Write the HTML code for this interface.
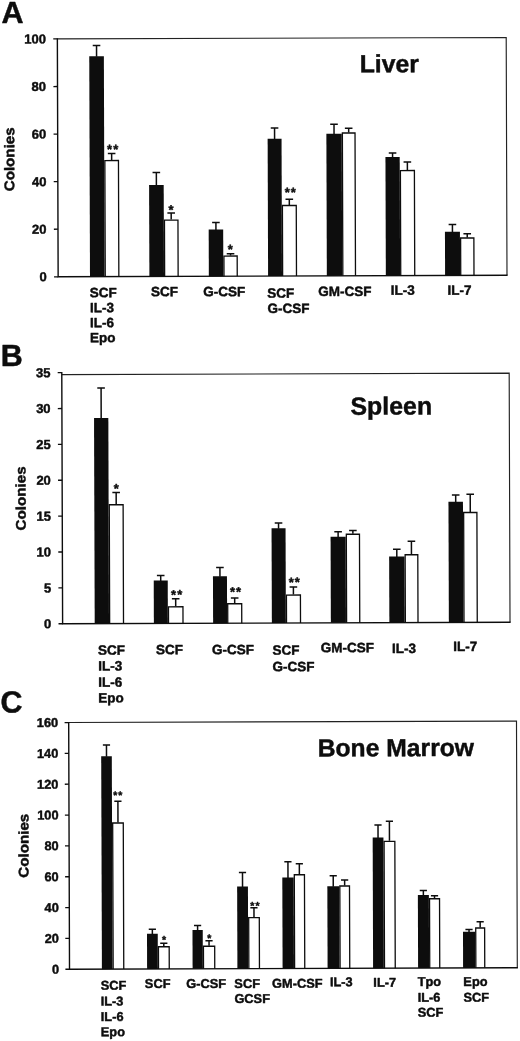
<!DOCTYPE html>
<html><head><meta charset="utf-8"><title>Figure</title>
<style>
html,body{margin:0;padding:0;background:#fff;}
svg{display:block;}
text{font-family:"Liberation Sans", Arial, Helvetica, sans-serif;font-weight:bold;fill:#0d0d0d;stroke:#0d0d0d;stroke-width:0.45px;stroke-linejoin:round;}
</style></head>
<body>
<svg width="520" height="1041" viewBox="0 0 520 1041">
<rect width="520" height="1041" fill="#fff"/>
<g transform="rotate(-0.19 282 157)">
<path d="M57.75 38.2H506.6V276.05" fill="none" stroke="#222" stroke-width="1.15"/>
<path d="M104.85 276.05V159.94H118.45V276.05" fill="#fff" stroke="#0d0d0d" stroke-width="1.3"/>
<path d="M111.65 159.44V152.84M107.85 152.84h7.6" fill="none" stroke="#0d0d0d" stroke-width="1.5"/>
<rect x="89.6" y="55.64" width="14.6" height="220.41" fill="#0d0d0d"/>
<path d="M96.9 56.14V44.89M93.1 44.89h7.6" fill="none" stroke="#0d0d0d" stroke-width="1.5"/>
<path d="M164.25 276.05V219.73H177.75V276.05" fill="#fff" stroke="#0d0d0d" stroke-width="1.3"/>
<path d="M171 219.23V212.73M167.2 212.73h7.6" fill="none" stroke="#0d0d0d" stroke-width="1.5"/>
<rect x="149" y="184.58" width="14.6" height="91.47" fill="#0d0d0d"/>
<path d="M156.3 185.08V172.08M152.5 172.08h7.6" fill="none" stroke="#0d0d0d" stroke-width="1.5"/>
<path d="M223.6 276.05V255.83H236.85V276.05" fill="#fff" stroke="#0d0d0d" stroke-width="1.3"/>
<path d="M230.22 255.33V253.58M226.42 253.58h7.6" fill="none" stroke="#0d0d0d" stroke-width="1.5"/>
<rect x="208.45" y="229.28" width="14.5" height="46.77" fill="#0d0d0d"/>
<path d="M215.7 229.78V222.28M211.9 222.28h7.6" fill="none" stroke="#0d0d0d" stroke-width="1.5"/>
<path d="M282.25 276.05V205.52H296.1V276.05" fill="#fff" stroke="#0d0d0d" stroke-width="1.3"/>
<path d="M289.17 205.02V199.27M285.37 199.27h7.6" fill="none" stroke="#0d0d0d" stroke-width="1.5"/>
<rect x="267.7" y="138.73" width="13.9" height="137.32" fill="#0d0d0d"/>
<path d="M274.65 139.23V127.98M270.85 127.98h7.6" fill="none" stroke="#0d0d0d" stroke-width="1.5"/>
<path d="M342.45 276.05V133.22H355.1V276.05" fill="#fff" stroke="#0d0d0d" stroke-width="1.3"/>
<path d="M348.77 132.72V128.47M344.97 128.47h7.6" fill="none" stroke="#0d0d0d" stroke-width="1.5"/>
<rect x="326.45" y="133.92" width="15.35" height="142.13" fill="#0d0d0d"/>
<path d="M334.12 134.42V124.42M330.32 124.42h7.6" fill="none" stroke="#0d0d0d" stroke-width="1.5"/>
<path d="M400.35 276.05V170.92H414.35V276.05" fill="#fff" stroke="#0d0d0d" stroke-width="1.3"/>
<path d="M407.35 170.42V162.42M403.55 162.42h7.6" fill="none" stroke="#0d0d0d" stroke-width="1.5"/>
<rect x="385.45" y="157.37" width="14.25" height="118.68" fill="#0d0d0d"/>
<path d="M392.57 157.87V153.37M388.77 153.37h7.6" fill="none" stroke="#0d0d0d" stroke-width="1.5"/>
<path d="M460.35 276.05V238.61H473.6V276.05" fill="#fff" stroke="#0d0d0d" stroke-width="1.3"/>
<path d="M466.98 238.11V234.36M463.18 234.36h7.6" fill="none" stroke="#0d0d0d" stroke-width="1.5"/>
<rect x="444.7" y="232.31" width="15" height="43.74" fill="#0d0d0d"/>
<path d="M452.2 232.81V225.06M448.4 225.06h7.6" fill="none" stroke="#0d0d0d" stroke-width="1.5"/>
<path d="M57.75 37.6V276.05M57.05 276.05H507.2" fill="none" stroke="#0d0d0d" stroke-width="1.4"/>
<path d="M53.65 38.2H57.75" fill="none" stroke="#0d0d0d" stroke-width="1.3"/>
<text x="46.3" y="42.67" font-size="13" text-anchor="end">100</text>
<path d="M53.65 85.77H57.75" fill="none" stroke="#0d0d0d" stroke-width="1.3"/>
<text x="46.3" y="90.24" font-size="13" text-anchor="end">80</text>
<path d="M53.65 133.34H57.75" fill="none" stroke="#0d0d0d" stroke-width="1.3"/>
<text x="46.3" y="137.81" font-size="13" text-anchor="end">60</text>
<path d="M53.65 180.91H57.75" fill="none" stroke="#0d0d0d" stroke-width="1.3"/>
<text x="46.3" y="185.38" font-size="13" text-anchor="end">40</text>
<path d="M53.65 228.48H57.75" fill="none" stroke="#0d0d0d" stroke-width="1.3"/>
<text x="46.3" y="232.95" font-size="13" text-anchor="end">20</text>
<path d="M53.65 276.05H57.75" fill="none" stroke="#0d0d0d" stroke-width="1.3"/>
<text x="46.3" y="280.52" font-size="13" text-anchor="end">0</text>
<text x="89.4" y="296.65" font-size="13.5">SCF</text>
<text x="89.4" y="311.65" font-size="13.5">IL-3</text>
<text x="89.4" y="326.65" font-size="13.5">IL-6</text>
<text x="89.4" y="341.65" font-size="13.5">Epo</text>
<text x="150.6" y="295.85" font-size="13.5">SCF</text>
<text x="202.7" y="296.03" font-size="13.5">G-CSF</text>
<text x="266.9" y="297.79" font-size="13.5">SCF</text>
<text x="266.9" y="312.99" font-size="13.5">G-CSF</text>
<text x="317.7" y="296.16" font-size="13.5">GM-CSF</text>
<text x="390.3" y="295.15" font-size="13.5">IL-3</text>
<text x="447" y="295.34" font-size="13.5">IL-7</text>
<text x="113.2" y="153.08" font-size="13" text-anchor="middle" stroke-width="0.3" letter-spacing="1.0">**</text>
<text x="171.25" y="213.78" font-size="13" text-anchor="middle" stroke-width="0.3" letter-spacing="1.0">*</text>
<text x="230.5" y="253.47" font-size="13" text-anchor="middle" stroke-width="0.3" letter-spacing="1.0">*</text>
<text x="290.7" y="196.67" font-size="13" text-anchor="middle" stroke-width="0.3" letter-spacing="1.0">**</text>
<text x="360" y="72.59" font-size="24.8">Liver</text>
<text x="1.9" y="22.17" font-size="30.5" stroke-width="0.8">A</text>
<text transform="translate(14.2 190.41) rotate(-90)" font-size="14.0" textLength="64" lengthAdjust="spacingAndGlyphs">Colonies</text>
</g>
<g transform="rotate(-0.19 285 498)">
<path d="M62.2 373.9H509.6V623" fill="none" stroke="#222" stroke-width="1.15"/>
<path d="M109.25 623V504.19H123.1V623" fill="#fff" stroke="#0d0d0d" stroke-width="1.3"/>
<path d="M116.18 503.69V491.94M112.38 491.94h7.6" fill="none" stroke="#0d0d0d" stroke-width="1.5"/>
<rect x="94.3" y="417.39" width="14.3" height="205.61" fill="#0d0d0d"/>
<path d="M101.45 417.89V387.39M97.65 387.39h7.6" fill="none" stroke="#0d0d0d" stroke-width="1.5"/>
<path d="M168.1 623V606.39H182.6V623" fill="#fff" stroke="#0d0d0d" stroke-width="1.3"/>
<path d="M175.35 605.89V598.39M171.55 598.39h7.6" fill="none" stroke="#0d0d0d" stroke-width="1.5"/>
<rect x="153.45" y="580.09" width="14" height="42.91" fill="#0d0d0d"/>
<path d="M160.45 580.59V575.09M156.65 575.09h7.6" fill="none" stroke="#0d0d0d" stroke-width="1.5"/>
<path d="M227.35 623V603.58H241.35V623" fill="#fff" stroke="#0d0d0d" stroke-width="1.3"/>
<path d="M234.35 603.08V597.83M230.55 597.83h7.6" fill="none" stroke="#0d0d0d" stroke-width="1.5"/>
<rect x="212.7" y="576.03" width="14" height="46.97" fill="#0d0d0d"/>
<path d="M219.7 576.53V567.28M215.9 567.28h7.6" fill="none" stroke="#0d0d0d" stroke-width="1.5"/>
<path d="M286.1 623V595.03H300.1V623" fill="#fff" stroke="#0d0d0d" stroke-width="1.3"/>
<path d="M293.1 594.53V587.03M289.3 587.03h7.6" fill="none" stroke="#0d0d0d" stroke-width="1.5"/>
<rect x="271.45" y="528.23" width="14" height="94.77" fill="#0d0d0d"/>
<path d="M278.45 528.73V522.98M274.65 522.98h7.6" fill="none" stroke="#0d0d0d" stroke-width="1.5"/>
<path d="M346.2 623V534.47H359.35V623" fill="#fff" stroke="#0d0d0d" stroke-width="1.3"/>
<path d="M352.77 533.97V530.72M348.97 530.72h7.6" fill="none" stroke="#0d0d0d" stroke-width="1.5"/>
<rect x="330.45" y="536.93" width="15.1" height="86.07" fill="#0d0d0d"/>
<path d="M338 537.43V531.93M334.2 531.93h7.6" fill="none" stroke="#0d0d0d" stroke-width="1.5"/>
<path d="M404.95 623V555.17H417.6V623" fill="#fff" stroke="#0d0d0d" stroke-width="1.3"/>
<path d="M411.27 554.67V541.67M407.47 541.67h7.6" fill="none" stroke="#0d0d0d" stroke-width="1.5"/>
<rect x="388.95" y="556.87" width="15.35" height="66.13" fill="#0d0d0d"/>
<path d="M396.62 557.37V549.62M392.82 549.62h7.6" fill="none" stroke="#0d0d0d" stroke-width="1.5"/>
<path d="M463.6 623V513.11H476.85V623" fill="#fff" stroke="#0d0d0d" stroke-width="1.3"/>
<path d="M470.23 512.61V494.86M466.43 494.86h7.6" fill="none" stroke="#0d0d0d" stroke-width="1.5"/>
<rect x="448.45" y="502.32" width="14.5" height="120.68" fill="#0d0d0d"/>
<path d="M455.7 502.82V495.57M451.9 495.57h7.6" fill="none" stroke="#0d0d0d" stroke-width="1.5"/>
<path d="M62.2 371.31V623M61.5 623H510.2" fill="none" stroke="#0d0d0d" stroke-width="1.4"/>
<path d="M58.1 371.91H62.2" fill="none" stroke="#0d0d0d" stroke-width="1.3"/>
<text x="50.9" y="376.38" font-size="13" text-anchor="end">35</text>
<path d="M58.1 407.78H62.2" fill="none" stroke="#0d0d0d" stroke-width="1.3"/>
<text x="50.9" y="412.25" font-size="13" text-anchor="end">30</text>
<path d="M58.1 443.65H62.2" fill="none" stroke="#0d0d0d" stroke-width="1.3"/>
<text x="50.9" y="448.12" font-size="13" text-anchor="end">25</text>
<path d="M58.1 479.52H62.2" fill="none" stroke="#0d0d0d" stroke-width="1.3"/>
<text x="50.9" y="483.99" font-size="13" text-anchor="end">20</text>
<path d="M58.1 515.39H62.2" fill="none" stroke="#0d0d0d" stroke-width="1.3"/>
<text x="50.9" y="519.86" font-size="13" text-anchor="end">15</text>
<path d="M58.1 551.26H62.2" fill="none" stroke="#0d0d0d" stroke-width="1.3"/>
<text x="50.9" y="555.73" font-size="13" text-anchor="end">10</text>
<path d="M58.1 587.13H62.2" fill="none" stroke="#0d0d0d" stroke-width="1.3"/>
<text x="50.9" y="591.6" font-size="13" text-anchor="end">5</text>
<path d="M58.1 623H62.2" fill="none" stroke="#0d0d0d" stroke-width="1.3"/>
<text x="50.9" y="627.47" font-size="13" text-anchor="end">0</text>
<text x="97.6" y="654.17" font-size="13.5">SCF</text>
<text x="97.6" y="669.92" font-size="13.5">IL-3</text>
<text x="97.6" y="686.17" font-size="13.5">IL-6</text>
<text x="97.6" y="701.92" font-size="13.5">Epo</text>
<text x="155.6" y="653.86" font-size="13.5">SCF</text>
<text x="211.5" y="654.05" font-size="13.5">G-CSF</text>
<text x="271.9" y="654.75" font-size="13.5">SCF</text>
<text x="271.9" y="671.25" font-size="13.5">G-CSF</text>
<text x="320.2" y="652.41" font-size="13.5">GM-CSF</text>
<text x="391.6" y="653.39" font-size="13.5">IL-3</text>
<text x="452.8" y="651.6" font-size="13.5">IL-7</text>
<text x="116.75" y="492.34" font-size="13" text-anchor="middle" stroke-width="0.3" letter-spacing="1.0">*</text>
<text x="176.8" y="598.78" font-size="13" text-anchor="middle" stroke-width="0.3" letter-spacing="1.0">**</text>
<text x="235.7" y="595.98" font-size="13" text-anchor="middle" stroke-width="0.3" letter-spacing="1.0">**</text>
<text x="294.45" y="586.67" font-size="13" text-anchor="middle" stroke-width="0.3" letter-spacing="1.0">**</text>
<text x="350.8" y="414.85" font-size="24.9">Spleen</text>
<text x="1.2" y="365.16" font-size="30.5" stroke-width="0.8">B</text>
<text transform="translate(25.6 529.54) rotate(-90)" font-size="14.0" textLength="64" lengthAdjust="spacingAndGlyphs">Colonies</text>
</g>
<g transform="rotate(-0.19 293 845)">
<path d="M69.1 721.8H516.9V968.5" fill="none" stroke="#222" stroke-width="1.15"/>
<path d="M112.75 968.5V822.42H123.35V968.5" fill="#fff" stroke="#0d0d0d" stroke-width="1.3"/>
<path d="M118.05 821.92V800.67M114.45 800.67h7.2" fill="none" stroke="#0d0d0d" stroke-width="1.5"/>
<rect x="101.5" y="755.63" width="10.6" height="212.87" fill="#0d0d0d"/>
<path d="M106.8 756.13V744.38M103.2 744.38h7.2" fill="none" stroke="#0d0d0d" stroke-width="1.5"/>
<path d="M158.1 968.5V946.32H168.85V968.5" fill="#fff" stroke="#0d0d0d" stroke-width="1.3"/>
<path d="M163.47 945.82V942.82M159.88 942.82h7.2" fill="none" stroke="#0d0d0d" stroke-width="1.5"/>
<rect x="146.7" y="933.28" width="10.75" height="35.22" fill="#0d0d0d"/>
<path d="M152.07 933.78V928.78M148.47 928.78h7.2" fill="none" stroke="#0d0d0d" stroke-width="1.5"/>
<path d="M203.1 968.5V945.97H214.35V968.5" fill="#fff" stroke="#0d0d0d" stroke-width="1.3"/>
<path d="M208.72 945.47V940.47M205.12 940.47h7.2" fill="none" stroke="#0d0d0d" stroke-width="1.5"/>
<rect x="192.2" y="929.68" width="10.25" height="38.82" fill="#0d0d0d"/>
<path d="M197.32 930.18V925.18M193.72 925.18h7.2" fill="none" stroke="#0d0d0d" stroke-width="1.5"/>
<path d="M248.45 968.5V917.57H259.05V968.5" fill="#fff" stroke="#0d0d0d" stroke-width="1.3"/>
<path d="M253.75 917.07V907.57M250.15 907.57h7.2" fill="none" stroke="#0d0d0d" stroke-width="1.5"/>
<rect x="237" y="886.43" width="10.8" height="82.07" fill="#0d0d0d"/>
<path d="M242.4 886.93V872.33M238.8 872.33h7.2" fill="none" stroke="#0d0d0d" stroke-width="1.5"/>
<path d="M294.2 968.5V874.77H304.35V968.5" fill="#fff" stroke="#0d0d0d" stroke-width="1.3"/>
<path d="M299.27 874.27V863.77M295.67 863.77h7.2" fill="none" stroke="#0d0d0d" stroke-width="1.5"/>
<rect x="282.2" y="877.48" width="11.35" height="91.02" fill="#0d0d0d"/>
<path d="M287.88 877.98V861.73M284.27 861.73h7.2" fill="none" stroke="#0d0d0d" stroke-width="1.5"/>
<path d="M339.7 968.5V886.17H349.35V968.5" fill="#fff" stroke="#0d0d0d" stroke-width="1.3"/>
<path d="M344.52 885.67V880.17M340.92 880.17h7.2" fill="none" stroke="#0d0d0d" stroke-width="1.5"/>
<rect x="327.2" y="886.38" width="11.85" height="82.12" fill="#0d0d0d"/>
<path d="M333.12 886.88V875.88M329.52 875.88h7.2" fill="none" stroke="#0d0d0d" stroke-width="1.5"/>
<path d="M384.1 968.5V841.62H394.85V968.5" fill="#fff" stroke="#0d0d0d" stroke-width="1.3"/>
<path d="M389.48 841.12V821.57M385.88 821.57h7.2" fill="none" stroke="#0d0d0d" stroke-width="1.5"/>
<rect x="372.7" y="837.78" width="10.75" height="130.72" fill="#0d0d0d"/>
<path d="M378.07 838.28V825.28M374.47 825.28h7.2" fill="none" stroke="#0d0d0d" stroke-width="1.5"/>
<path d="M429.35 968.5V899.22H439.35V968.5" fill="#fff" stroke="#0d0d0d" stroke-width="1.3"/>
<path d="M434.35 898.72V896.22M430.75 896.22h7.2" fill="none" stroke="#0d0d0d" stroke-width="1.5"/>
<rect x="417.7" y="895.43" width="11" height="73.07" fill="#0d0d0d"/>
<path d="M423.2 895.93V890.93M419.6 890.93h7.2" fill="none" stroke="#0d0d0d" stroke-width="1.5"/>
<path d="M475.45 968.5V928.62H484.35V968.5" fill="#fff" stroke="#0d0d0d" stroke-width="1.3"/>
<path d="M479.9 928.12V922.37M476.3 922.37h7.2" fill="none" stroke="#0d0d0d" stroke-width="1.5"/>
<rect x="462.7" y="932.33" width="12.1" height="36.17" fill="#0d0d0d"/>
<path d="M468.75 932.83V930.08M465.15 930.08h7.2" fill="none" stroke="#0d0d0d" stroke-width="1.5"/>
<path d="M69.1 721.2V968.5M68.4 968.5H517.5" fill="none" stroke="#0d0d0d" stroke-width="1.4"/>
<path d="M65 721.8H69.1" fill="none" stroke="#0d0d0d" stroke-width="1.3"/>
<text x="58.6" y="726.2" font-size="12.8" text-anchor="end">160</text>
<path d="M65 752.64H69.1" fill="none" stroke="#0d0d0d" stroke-width="1.3"/>
<text x="58.6" y="757.04" font-size="12.8" text-anchor="end">140</text>
<path d="M65 783.47H69.1" fill="none" stroke="#0d0d0d" stroke-width="1.3"/>
<text x="58.6" y="787.88" font-size="12.8" text-anchor="end">120</text>
<path d="M65 814.31H69.1" fill="none" stroke="#0d0d0d" stroke-width="1.3"/>
<text x="58.6" y="818.72" font-size="12.8" text-anchor="end">100</text>
<path d="M65 845.15H69.1" fill="none" stroke="#0d0d0d" stroke-width="1.3"/>
<text x="58.6" y="849.55" font-size="12.8" text-anchor="end">80</text>
<path d="M65 875.99H69.1" fill="none" stroke="#0d0d0d" stroke-width="1.3"/>
<text x="58.6" y="880.39" font-size="12.8" text-anchor="end">60</text>
<path d="M65 906.83H69.1" fill="none" stroke="#0d0d0d" stroke-width="1.3"/>
<text x="58.6" y="911.23" font-size="12.8" text-anchor="end">40</text>
<path d="M65 937.66H69.1" fill="none" stroke="#0d0d0d" stroke-width="1.3"/>
<text x="58.6" y="942.07" font-size="12.8" text-anchor="end">20</text>
<path d="M65 968.5H69.1" fill="none" stroke="#0d0d0d" stroke-width="1.3"/>
<text x="58.6" y="972.9" font-size="12.8" text-anchor="end">0</text>
<text x="100.2" y="989.15" font-size="12.8">SCF</text>
<text x="100.2" y="1004.9" font-size="12.8">IL-3</text>
<text x="100.2" y="1020.4" font-size="12.8">IL-6</text>
<text x="100.2" y="1035.65" font-size="12.8">Epo</text>
<text x="144.4" y="987.55" font-size="12.8">SCF</text>
<text x="185.8" y="987.68" font-size="12.8">G-CSF</text>
<text x="233.9" y="987.84" font-size="12.8">SCF</text>
<text x="233.9" y="1002.84" font-size="12.8">GCSF</text>
<text x="271.6" y="987.77" font-size="12.8">GM-CSF</text>
<text x="329.5" y="986.36" font-size="12.8">IL-3</text>
<text x="372.9" y="987.05" font-size="12.8">IL-7</text>
<text x="417.2" y="986.45" font-size="12.8">Tpo</text>
<text x="417.2" y="1002.2" font-size="12.8">IL-6</text>
<text x="417.2" y="1017.2" font-size="12.8">SCF</text>
<text x="462.9" y="986.6" font-size="12.8">Epo</text>
<text x="462.9" y="1002.35" font-size="12.8">SCF</text>
<text x="118.45" y="798.09" font-size="10.5" text-anchor="middle" stroke-width="0.3" letter-spacing="1.0">**</text>
<text x="164.25" y="942.75" font-size="10.5" text-anchor="middle" stroke-width="0.3" letter-spacing="1.0">*</text>
<text x="209.5" y="941.4" font-size="10.5" text-anchor="middle" stroke-width="0.3" letter-spacing="1.0">*</text>
<text x="255.2" y="909.2" font-size="10.5" text-anchor="middle" stroke-width="0.3" letter-spacing="1.0">**</text>
<text x="318" y="756.52" font-size="24.7">Bone Marrow</text>
<text x="0.9" y="711.53" font-size="30.5" stroke-width="0.8">C</text>
<text transform="translate(28.5 876.87) rotate(-90)" font-size="14.0" textLength="64" lengthAdjust="spacingAndGlyphs">Colonies</text>
</g>
</svg>
</body></html>
